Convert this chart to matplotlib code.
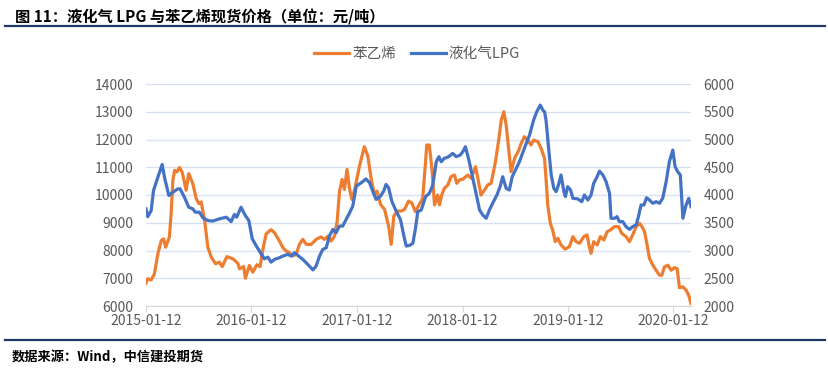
import numpy as np
import pandas as pd
import matplotlib
matplotlib.use('Agg')
import matplotlib.pyplot as plt
import matplotlib.dates as mdates
from matplotlib.lines import Line2D

plt.rcParams['font.family'] = ['Noto Sans CJK SC', 'DejaVu Sans']

# 起始日期与各点相对天数
start = pd.Timestamp('2015-01-12')

# 苯乙烯（左轴，元/吨）
styrene_days = [0, 6, 18, 29, 41, 53, 61, 68, 81, 87, 93, 99, 107, 116, 125, 139, 148, 162,
                174, 183, 191, 203, 214, 226, 241, 254, 264, 280, 301, 318, 324, 338, 344,
                358, 370, 384, 395, 404, 416, 433, 445, 462, 474, 485, 497, 508, 520, 531,
                543, 555, 572, 589, 606, 618, 630, 641, 653, 662, 670, 679, 687, 696, 705,
                713, 724, 739, 756, 768, 780, 791, 800, 812, 826, 840, 849, 858, 870, 883,
                895, 909, 920, 933, 945, 958, 968, 972, 981, 991, 999, 1010, 1016, 1024,
                1033, 1045, 1056, 1068, 1076, 1085, 1097, 1114, 1126, 1141, 1149, 1160,
                1172, 1183, 1195, 1210, 1222, 1230, 1239, 1247, 1256, 1264, 1276, 1291,
                1299, 1310, 1322, 1333, 1342, 1357, 1368, 1380, 1385, 1391, 1400, 1408,
                1417, 1426, 1437, 1451, 1466, 1478, 1489, 1501, 1516, 1527, 1535, 1541,
                1550, 1562, 1573, 1585, 1597, 1608, 1622, 1636, 1647, 1662, 1674, 1685,
                1697, 1709, 1717, 1726, 1735, 1743, 1755, 1766, 1778, 1786, 1795, 1807,
                1818, 1830, 1839, 1847, 1859, 1870, 1879, 1887]
styrene = [6820, 6980, 6940, 7150, 7880, 8360, 8420, 8120, 8480, 9320, 10530, 10890, 10830,
           10990, 10830, 10170, 10770, 10410, 9870, 9690, 9750, 9080, 8120, 7760, 7520,
           7580, 7420, 7780, 7700, 7540, 7340, 7420, 7000, 7460, 7220, 7490, 7420, 8000,
           8600, 8750, 8640, 8340, 8100, 7980, 7920, 7800, 7860, 8220, 8400, 8220, 8220,
           8400, 8490, 8400, 8520, 8340, 8520, 9060, 10140, 10560, 10200, 10920, 10200,
           9840, 10260, 11040, 11740, 11400, 10560, 10020, 10140, 9660, 9480, 8880, 8220,
           9240, 9420, 9420, 9480, 9780, 9720, 9400, 9640, 9880, 11200, 11800, 11800,
           10840, 9640, 10000, 9640, 10000, 10240, 10360, 10660, 10720, 10420, 10540,
           10570, 10720, 10600, 11020, 10600, 10000, 10180, 10360, 10420, 11200, 12040,
           12700, 13000, 12520, 11620, 10840, 11320, 11620, 11860, 12100, 11980, 11800,
           11980, 11920, 11680, 11320, 10600, 9640, 8980, 8740, 8320, 8440, 8200, 8050,
           8140, 8500, 8320, 8260, 8500, 8560, 8140, 7900, 8320, 8200, 8500, 8380, 8680,
           8740, 8860, 8860, 8620, 8500, 8320, 8560, 8860, 8980, 8860, 8680, 8200, 7720,
           7470, 7290, 7110, 7110, 7410, 7470, 7290, 7380, 7350, 6660, 6690, 6570, 6390,
           6090]

# 液化气LPG（右轴，元/吨）
lpg_days = [0, 6, 18, 26, 41, 56, 64, 79, 93, 110, 118, 133, 148, 162, 171, 185, 197, 214,
            231, 254, 278, 295, 306, 314, 329, 344, 356, 368, 381, 395, 410, 422, 433, 445,
            462, 474, 491, 503, 514, 526, 543, 560, 578, 589, 601, 612, 624, 635, 647, 658,
            670, 681, 693, 705, 716, 728, 745, 762, 774, 785, 797, 812, 823, 831, 840, 851,
            866, 881, 893, 901, 912, 924, 933, 941, 953, 968, 981, 993, 1005, 1014, 1022,
            1033, 1048, 1062, 1074, 1088, 1097, 1106, 1118, 1129, 1141, 1155, 1166, 1178,
            1189, 1203, 1215, 1226, 1235, 1247, 1258, 1268, 1279, 1293, 1310, 1328, 1342,
            1353, 1365, 1374, 1380, 1385, 1393, 1403, 1412, 1420, 1428, 1437, 1447, 1452,
            1460, 1470, 1478, 1495, 1509, 1518, 1530, 1541, 1550, 1562, 1570, 1582, 1593,
            1605, 1610, 1622, 1631, 1639, 1651, 1662, 1674, 1685, 1697, 1705, 1714, 1724,
            1733, 1743, 1755, 1766, 1778, 1789, 1801, 1812, 1824, 1832, 1841, 1850, 1859,
            1870, 1879, 1887]
lpg = [3750, 3610, 3720, 4080, 4320, 4550, 4320, 3990, 4050, 4110, 4110, 3960, 3780, 3750,
       3690, 3690, 3590, 3540, 3530, 3570, 3600, 3520, 3650, 3600, 3780, 3630, 3540, 3210,
       3090, 2970, 2850, 2880, 2790, 2840, 2870, 2900, 2930, 2900, 2960, 2910, 2840, 2750,
       2650, 2720, 2900, 3020, 3050, 3260, 3380, 3320, 3440, 3440, 3560, 3680, 3800, 4160,
       4220, 4290, 4220, 4070, 3920, 3980, 4070, 4190, 4130, 3890, 3710, 3560, 3260, 3080,
       3090, 3130, 3400, 3700, 3730, 3970, 4030, 4180, 4600, 4690, 4600, 4660, 4690, 4750,
       4690, 4720, 4780, 4870, 4630, 4360, 4060, 3730, 3640, 3580, 3730, 3880, 4000, 4150,
       4330, 4120, 4090, 4330, 4450, 4600, 4840, 5080, 5350, 5500, 5620, 5530, 5500, 5350,
       4900, 4360, 4120, 4060, 4180, 4360, 4060, 3970, 4150, 4090, 3940, 3930, 3880, 4000,
       3910, 4000, 4210, 4330, 4430, 4360, 4240, 4030, 3580, 3580, 3610, 3520, 3520, 3430,
       3380, 3430, 3460, 3610, 3820, 3820, 3950, 3910, 3850, 3880, 3850, 3940, 4240, 4600,
       4810, 4510, 4420, 4360, 3580, 3820, 3940, 3790]

tick_labels = ['2015-01-12', '2016-01-12', '2017-01-12', '2018-01-12', '2019-01-12', '2020-01-12']
left_ticks = np.arange(6000, 14001, 1000)
right_ticks = np.arange(2000, 6001, 500)

styrene_dates = start + pd.to_timedelta(styrene_days, unit='D')
lpg_dates = start + pd.to_timedelta(lpg_days, unit='D')

c_orange = '#ED7D31'
c_blue = '#4472C4'
c_text = '#595959'
c_grid = '#D9E2F3'
c_navy = '#1F3864'

fig = plt.figure(figsize=(8.29, 3.68), dpi=100)
ax = fig.add_axes([146 / 829, 1 - 306 / 368, 545 / 829, 222 / 368])
ax2 = ax.twinx()

l1, = ax.plot(styrene_dates, styrene, color=c_orange, lw=2.3, label='苯乙烯', zorder=3)
l2, = ax2.plot(lpg_dates, lpg, color=c_blue, lw=2.3, label='液化气LPG', zorder=3)

ax.set_ylim(6000, 14000)
ax2.set_ylim(2000, 6000)
ax.set_yticks(left_ticks)
ax2.set_yticks(right_ticks)
ax.set_xlim(start, start + pd.Timedelta(days=1887))
ax.set_xticks(pd.to_datetime(tick_labels))
ax.set_xticklabels(tick_labels)

ax.grid(axis='y', color=c_grid, lw=1.0)
ax.set_axisbelow(True)
for a in (ax, ax2):
    for s in ('top', 'left', 'right'):
        a.spines[s].set_visible(False)
    a.spines['bottom'].set_color('#D9D9D9')
ax2.spines['bottom'].set_visible(False)

ax.tick_params(axis='y', length=0, pad=9, labelsize=10, labelcolor=c_text)
ax2.tick_params(axis='y', length=0, pad=9, labelsize=10, labelcolor=c_text)
ax.tick_params(axis='x', length=4, color='#D9D9D9', pad=2, labelsize=10, labelcolor=c_text)

fig.legend(handles=[l1, l2], loc='center', bbox_to_anchor=(417 / 829, 1 - 54 / 368),
           ncol=2, frameon=False, fontsize=10.5, handlelength=2.4, handletextpad=0.2,
           columnspacing=1.0, labelcolor=c_text)

fig.text(15 / 829, 1 - 17 / 368, '图 11：液化气 LPG 与苯乙烯现货价格（单位：元/吨）',
         fontsize=11, fontweight='bold', va='center', ha='left', color='black')
fig.add_artist(Line2D([5 / 829, 825 / 829], [1 - 26 / 368, 1 - 26 / 368], color=c_navy, lw=1.6))
fig.add_artist(Line2D([5 / 829, 825 / 829], [1 - 340 / 368, 1 - 340 / 368], color=c_navy, lw=1.6))
fig.text(12 / 829, 1 - 357 / 368, '数据来源：Wind，中信建投期货', fontsize=9.5,
         fontweight='bold', style='italic', va='center', ha='left', color='black')

fig.savefig('out.png', dpi=100)
